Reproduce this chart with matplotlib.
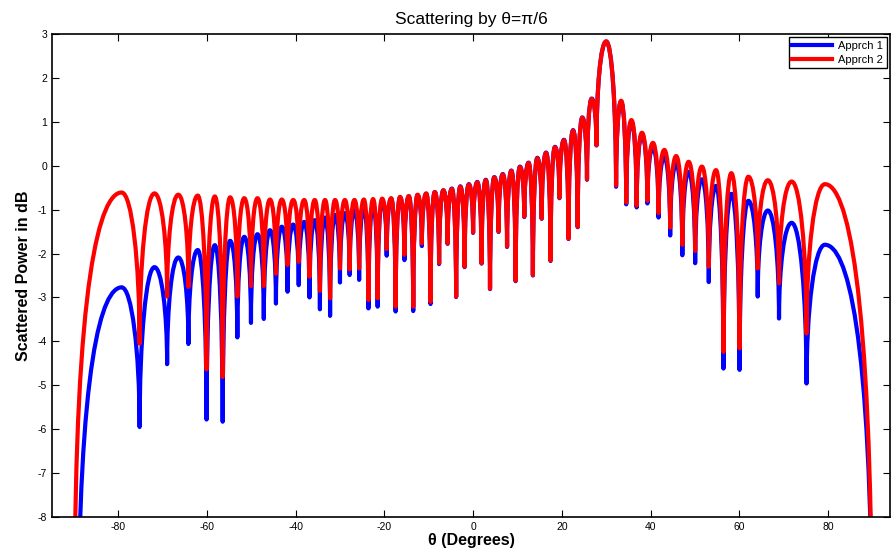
import matplotlib
matplotlib.use("Agg")
import matplotlib.pyplot as plt
from matplotlib.path import Path
from matplotlib.patches import PathPatch
from matplotlib.lines import Line2D

# nulls of the pattern (deg) and their depths (dB)
null_deg = [-75.16, -68.96, -64.16, -60.07, -56.44, -53.13, -50.06, -47.17, -44.43, -41.81,
            -39.30, -36.87, -34.52, -32.23, -30.00, -27.82, -25.68, -23.58, -21.51, -19.47,
            -17.46, -15.47, -13.49, -11.54, -9.59, -7.66, -5.74, -3.82, -1.91, 0.00,
            1.91, 3.82, 5.74, 7.66, 9.59, 11.54, 13.49, 15.47, 17.46, 19.47,
            21.51, 23.58, 25.68, 27.82, 32.23, 34.52, 36.87, 39.30, 41.81, 44.43,
            47.17, 50.06, 53.13, 56.44, 60.07, 64.16, 68.96, 75.16]
null_db_2 = [-4.05, -2.98, -2.76, -4.64, -4.81, -2.98, -2.74, -2.74, -2.46, -2.26,
             -2.19, -2.53, -2.85, -3.02, -2.34, -2.36, -2.34, -3.06, -3.02, -1.90,
             -3.21, -2.03, -3.21, -1.77, -3.10, -2.22, -1.77, -2.98, -2.30, -1.52,
             -2.22, -2.80, -1.50, -1.84, -2.62, -1.16, -2.49, -1.20, -2.16, -0.73,
             -1.66, -1.39, -0.31, 0.47, -0.45, -0.84, -0.91, -0.80, -1.08, -1.41,
             -1.80, -1.94, -2.30, -4.24, -4.16, -2.34, -2.68, -3.82]
null_db_1 = [-5.95, -4.52, -4.06, -5.78, -5.83, -3.91, -3.58, -3.49, -3.14, -2.87,
             -2.72, -3.00, -3.27, -3.42, -2.66, -2.49, -2.60, -3.25, -3.21, -2.05,
             -3.32, -2.15, -3.31, -1.83, -3.15, -2.24, -1.78, -2.99, -2.31, -1.53,
             -2.23, -2.81, -1.51, -1.85, -2.63, -1.17, -2.50, -1.21, -2.17, -0.74,
             -1.67, -1.40, -0.32, 0.46, -0.48, -0.88, -0.95, -0.86, -1.18, -1.59,
             -2.04, -2.22, -2.65, -4.62, -4.65, -2.98, -3.48, -4.96]

# lobe maxima (one more lobe than nulls)
peak_deg = [-79.2, -71.81, -66.44, -62.06, -58.21, -54.76, -51.57, -48.59, -45.78, -43.11,
            -40.54, -38.07, -35.69, -33.37, -31.11, -28.90, -26.74, -24.62, -22.54, -20.49,
            -18.46, -16.46, -14.48, -12.51, -10.56, -8.63, -6.70, -4.78, -2.87, -0.95,
            0.95, 2.87, 4.78, 6.70, 8.63, 10.56, 12.51, 14.48, 16.46, 18.46,
            20.49, 22.54, 24.62, 26.74, 30.00, 33.37, 35.69, 38.07, 40.54, 43.11,
            45.78, 48.59, 51.57, 54.76, 58.21, 62.06, 66.44, 71.81, 79.3]
peak_db_2 = [-0.61, -0.63, -0.66, -0.68, -0.70, -0.72, -0.74, -0.74, -0.77, -0.77,
             -0.78, -0.78, -0.78, -0.78, -0.78, -0.78, -0.78, -0.77, -0.76, -0.75,
             -0.74, -0.71, -0.69, -0.66, -0.63, -0.60, -0.56, -0.53, -0.48, -0.43,
             -0.38, -0.33, -0.27, -0.20, -0.12, -0.03, 0.06, 0.17, 0.29, 0.42,
             0.58, 0.80, 1.09, 1.52, 2.83, 1.48, 1.04, 0.75, 0.52, 0.36,
             0.22, 0.09, -0.02, -0.10, -0.17, -0.25, -0.33, -0.36, -0.42]
peak_db_1 = [-2.77, -2.31, -2.09, -1.92, -1.81, -1.71, -1.62, -1.56, -1.47, -1.39,
             -1.34, -1.28, -1.24, -1.18, -1.12, -1.08, -1.02, -0.96, -0.88, -0.80,
             -0.75, -0.72, -0.70, -0.67, -0.64, -0.60, -0.56, -0.52, -0.47, -0.42,
             -0.37, -0.32, -0.26, -0.19, -0.11, -0.02, 0.07, 0.18, 0.30, 0.43,
             0.59, 0.81, 1.10, 1.53, 2.83, 1.46, 1.00, 0.70, 0.42, 0.20,
             0.04, -0.14, -0.31, -0.46, -0.64, -0.80, -1.02, -1.30, -1.80]

# where each curve leaves the bottom of the plot (left end, right end)
edge_deg_2 = [-89.8, 89.9]
edge_db_2 = [-10.0, -11.0]
edge_deg_1 = [-89.0, 89.9]
edge_db_1 = [-11.0, -11.0]

labels = ["Apprch 1", "Apprch 2"]
colors = ["#0000ff", "#ff0000"]


def lobe_path(edge_deg, edge_db, pk_x, pk_y, nl_x, nl_y, a=0.55, b=0.55, ae=0.8, be=0.45):
    # knots alternate: low point, peak, low point, peak, ..., low point
    lows = [(edge_deg[0], edge_db[0])] + list(zip(nl_x, nl_y)) + [(edge_deg[1], edge_db[1])]
    peaks = list(zip(pk_x, pk_y))
    verts = [lows[0]]
    codes = [Path.MOVETO]
    n = len(peaks)
    for i in range(n):
        (x0, y0), (xp, yp), (x1, y1) = lows[i], peaks[i], lows[i + 1]
        aa, bb = (ae, be) if i == 0 else (a, b)
        verts += [(x0, y0 + aa * (yp - y0)), (xp - bb * (xp - x0), yp), (xp, yp)]
        codes += [Path.CURVE4] * 3
        aa, bb = (ae, be) if i == n - 1 else (a, b)
        verts += [(xp + bb * (x1 - xp), yp), (x1, y1 + aa * (yp - y1)), (x1, y1)]
        codes += [Path.CURVE4] * 3
    return Path(verts, codes)


plt.rcParams['font.family'] = ['Liberation Sans', 'DejaVu Sans']
plt.rcParams['axes.unicode_minus'] = False

fig = plt.figure(figsize=(8.91, 5.57), dpi=100)
ax = fig.add_axes([0.0584, 0.0718, 0.9406, 0.8672])

series = [(edge_deg_1, edge_db_1, peak_db_1, null_db_1),
          (edge_deg_2, edge_db_2, peak_db_2, null_db_2)]
for (ed, ey, py, ny), c in zip(series, colors):
    p = lobe_path(ed, ey, peak_deg, py, null_deg, ny)
    ax.add_patch(PathPatch(p, fill=False, edgecolor=c, lw=3, joinstyle='round'))

ax.set_xlim(-94.9, 94.0)
ax.set_ylim(-8, 3)
ax.set_xticks(range(-80, 81, 20))
ax.set_yticks(range(-8, 4))
ax.tick_params(direction='in', top=True, right=True, labelsize=7.5, length=5, width=0.8)
for s in ax.spines.values():
    s.set_linewidth(1.2)

ax.set_title("Scattering by \u03b8=\u03c0/6", fontsize=12.5, pad=7)
ax.set_xlabel("\u03b8 (Degrees)", fontsize=11.5, fontweight='bold', labelpad=1)
ax.set_ylabel("Scattered Power in dB", fontsize=11.5, fontweight='bold', labelpad=5)

handles = [Line2D([], [], color=c, lw=3) for c in colors]
leg = ax.legend(handles, labels, loc='upper right', fontsize=8, fancybox=False,
                framealpha=1, edgecolor='black', borderpad=0.35, handlelength=3.6,
                handletextpad=0.5, labelspacing=0.3, borderaxespad=0.3)
leg.get_frame().set_linewidth(1.0)

fig.savefig("out.png", dpi=100)
